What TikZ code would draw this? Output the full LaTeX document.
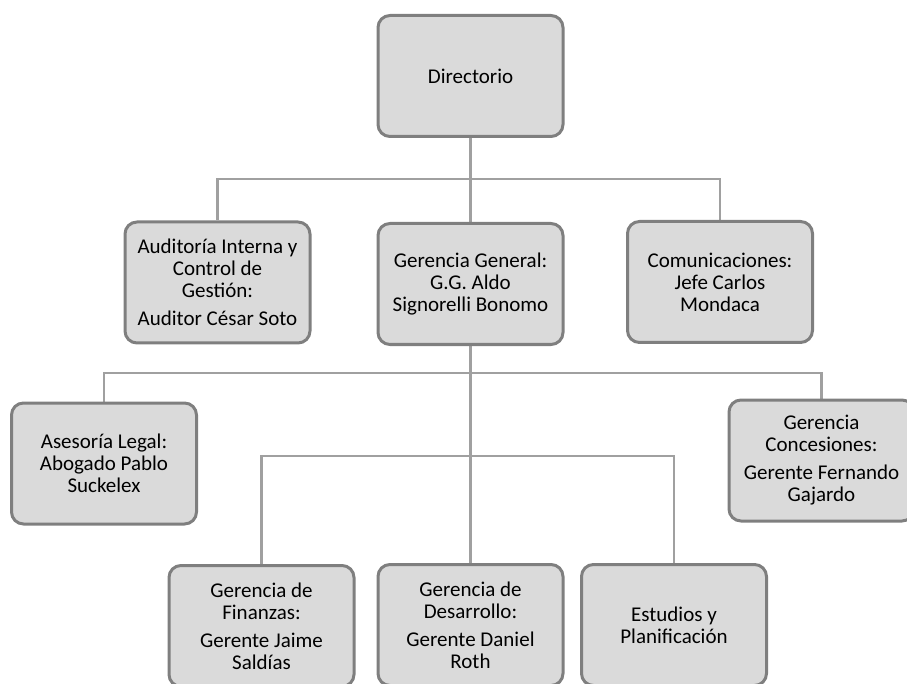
\documentclass[tikz,border=0pt]{standalone}
\usepackage{fontspec}
\setmainfont{Carlito}
\usetikzlibrary{backgrounds}
\definecolor{boxfill}{HTML}{DADADA}
\definecolor{boxdraw}{HTML}{7F7F7F}
\definecolor{linkcol}{HTML}{A0A0A0}
\begin{document}
\begin{tikzpicture}[x=1pt,y=-1pt,
  orgbox/.style={draw=boxdraw, fill=boxfill, line width=3pt, rounded corners=12pt,
    minimum width=185pt, minimum height=121pt, align=center, inner sep=0pt,
    font=\fontsize{21}{22}\selectfont, text=black},
  link/.style={draw=linkcol, line width=2.5pt}]
\useasboundingbox (0,0) rectangle (907,684);
\coordinate (busA) at (0,179);
\coordinate (busB) at (0,373);
\coordinate (busC) at (0,456);
\node[orgbox] (dir) at (470.5,76) {Directorio};
\node[orgbox] (aud) at (217.5,282.5) {Auditoría Interna y\\Control de\\Gestión:\\[6pt]Auditor César Soto};
\node[orgbox] (gg) at (470.5,284) {Gerencia General:\\G.G. Aldo\\Signorelli Bonomo};
\node[orgbox] (com) at (720,282) {Comunicaciones:\\Jefe Carlos\\Mondaca};
\node[orgbox] (ase) at (104,463.5) {Asesoría Legal:\\Abogado Pablo\\Suckelex};
\node[orgbox] (con) at (821.5,460.5) {Gerencia\\Concesiones:\\[6pt]Gerente Fernando\\Gajardo};
\node[orgbox] (fin) at (261.5,626) {Gerencia de\\Finanzas:\\[6pt]Gerente Jaime\\Saldías};
\node[orgbox] (des) at (470.5,625) {Gerencia de\\Desarrollo:\\[6pt]Gerente Daniel\\Roth};
\node[orgbox] (est) at (674,625) {Estudios y\\Planificación};
\begin{scope}[on background layer]
\path[link] (dir.south) -- (dir.south |- busA) -| (aud.north);
\path[link] (dir.south |- busA) -| (com.north);
\path[link] (dir.south |- busA) -- (gg.north);
\path[link] (gg.south) -- (gg.south |- busB) -| (ase.north);
\path[link] (gg.south |- busB) -| (con.north);
\path[link] (gg.south |- busB) -- (des.north);
\path[link] (gg.south |- busC) -| (fin.north);
\path[link] (gg.south |- busC) -| (est.north);
\end{scope}
\end{tikzpicture}
\end{document}
